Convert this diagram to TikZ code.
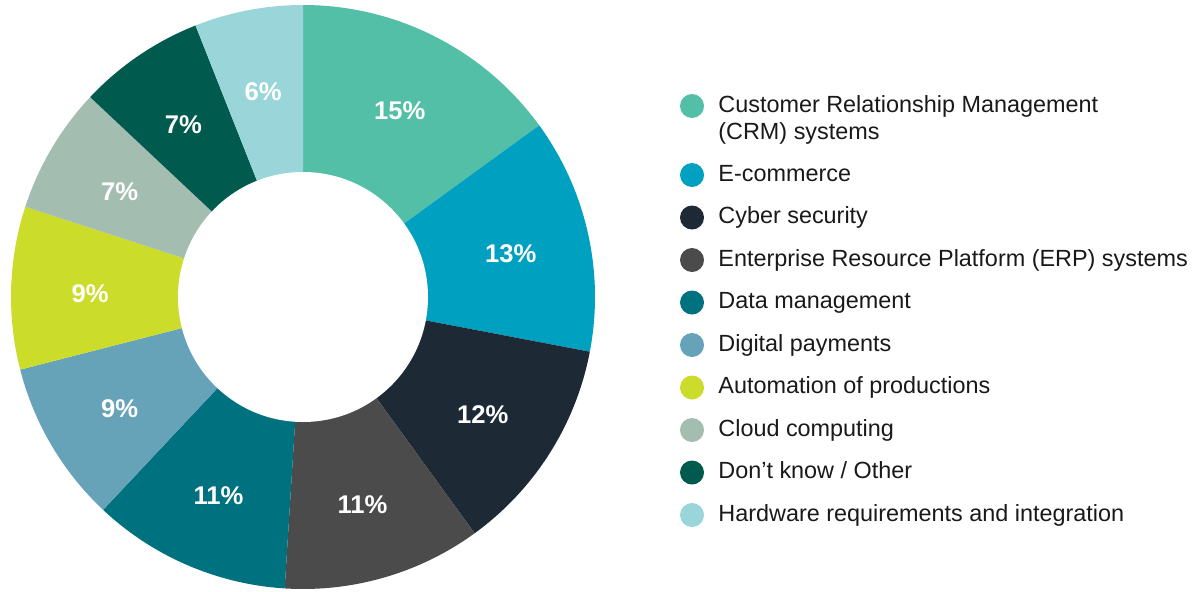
\documentclass[tikz,border=0pt]{standalone}
\usepackage{fontspec}
\setmainfont{Liberation Sans}
\usetikzlibrary{positioning}
\definecolor{crm}{HTML}{52BFA6}
\definecolor{ecom}{HTML}{00A0C1}
\definecolor{cyber}{HTML}{1D2935}
\definecolor{erp}{HTML}{4B4B4B}
\definecolor{datam}{HTML}{00717F}
\definecolor{payments}{HTML}{66A3B9}
\definecolor{automation}{HTML}{CCDC2A}
\definecolor{cloud}{HTML}{A4BDB1}
\definecolor{other}{HTML}{005A4E}
\definecolor{hardware}{HTML}{9AD6D9}
\tikzset{
    pct label/.style={text=white, inner sep=0pt, yshift=-1.75pt, font=\bfseries\fontsize{12.8}{15}\selectfont},
    legend dot/.style={circle, minimum size=12pt, inner sep=0pt},
    legend entry/.style={anchor=base west, inner sep=0pt, align=left, text=black!90,
        font=\fontsize{11.7}{13.5}\selectfont}
}
\begin{document}
\begin{tikzpicture}[x=0.5pt, y=0.5pt]
	\useasboundingbox (0,0) rectangle (1197,591);
	\coordinate (c) at (303,294);
	% wedges, clockwise from the top
	\foreach \s/\e/\col [count=\i] in {90/36/crm, 36/-10.8/ecom, -10.8/-54/cyber,
			-54/-93.6/erp, -93.6/-133.2/datam, -133.2/-165.6/payments,
			-165.6/-198/automation, -198/-223.2/cloud, -223.2/-248.4/other,
			-248.4/-270/hardware}
		\fill[\col] (c) -- ++(\s:292) arc[start angle=\s, end angle=\e, radius=292] -- cycle;
	\fill[white] (c) circle[radius=125];
	% percentages
	\foreach \p/\m [count=\i] in {15/63, 13/12.6, 12/-32.4, 11/-73.8, 11/-113.4,
			9/-149.4, 9/-181.8, 7/-210.6, 7/-235.8, 6/-259.2}
		\node[pct label] (pct\i) at ([shift={(\m:213)}]c) {\p\%};
	% legend
	\node[legend dot, fill=crm] (dot1) at (692,485) {};
	\node[legend entry] (entry1) at (718,452) {Customer Relationship Management\\(CRM) systems};
	\foreach \col/\txt [count=\i from 2] in {ecom/E-commerce, cyber/Cyber security,
			erp/Enterprise Resource Platform (ERP) systems, datam/Data management,
			payments/Digital payments, automation/Automation of productions,
			cloud/Cloud computing, other/{Don’t know / Other},
			hardware/Hardware requirements and integration}{
		\pgfmathsetmacro\yy{591-175-42.5*(\i-2)}
		\node[legend dot, fill=\col] (dot\i) at (692,\yy) {};
		\node[legend entry] (entry\i) at (718,\yy-6) {\txt};
	}
\end{tikzpicture}
\end{document}
